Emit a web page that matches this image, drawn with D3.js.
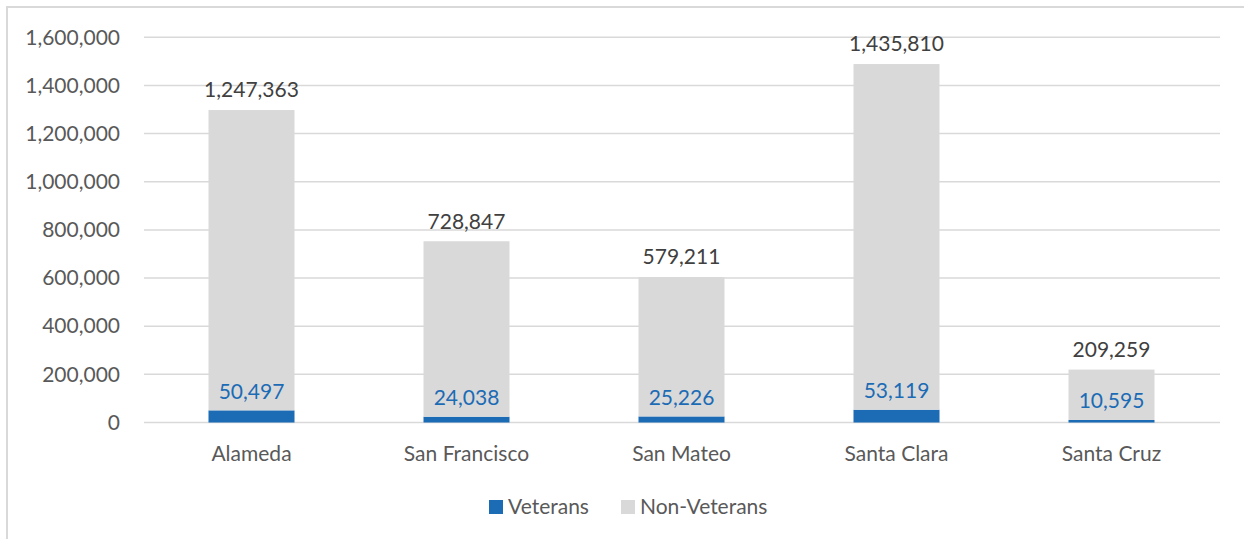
<!DOCTYPE html>
<html>
<head>
<meta charset="utf-8">
<script src="https://cdn.jsdelivr.net/npm/d3@7"></script>
<style>
  body { margin: 0; background: #fff; }
  svg text { font-family: Lato, "Open Sans", sans-serif; }
</style>
</head>
<body>
<div id="chart"></div>
<script>
var counties = ["Alameda", "San Francisco", "San Mateo", "Santa Clara", "Santa Cruz"];
var veterans = [50497, 24038, 25226, 53119, 10595];
var nonVeterans = [1247363, 728847, 579211, 1435810, 209259];
var yTicks = [0, 200000, 400000, 600000, 800000, 1000000, 1200000, 1400000, 1600000];
var seriesNames = ["Veterans", "Non-Veterans"];

var W = 1244, H = 539;
var blue = "#1b6bb5", grey = "#d9d9d9";
var fs = "21px";
var fmt = d3.format(",");

var svg = d3.select("#chart").append("svg")
    .attr("width", W)
    .attr("height", H);

// outer chart border (runs off the right/bottom edge)
svg.append("rect")
    .attr("x", 7).attr("y", 7)
    .attr("width", W).attr("height", H)
    .attr("fill", "none")
    .attr("stroke", "#d9d9d9")
    .attr("stroke-width", 2);

var x = d3.scaleBand()
    .domain(counties)
    .range([144, 1219])
    .paddingInner(0.6)
    .paddingOuter(0.3);

var y = d3.scaleLinear()
    .domain([0, 1600000])
    .range([422.5, 37.3]);

// gridlines
svg.append("g").selectAll("line")
    .data(yTicks)
    .enter().append("line")
    .attr("x1", 144).attr("x2", 1220)
    .attr("y1", function (d) { return y(d); })
    .attr("y2", function (d) { return y(d); })
    .attr("stroke", "#d9d9d9")
    .attr("stroke-width", 1.5);

// y axis labels
var yAxis = d3.axisLeft(y).tickValues(yTicks).tickFormat(fmt).tickSize(0).tickPadding(0);
var gy = svg.append("g").attr("transform", "translate(120,0)").call(yAxis);
gy.select(".domain").remove();
gy.selectAll("text")
    .attr("fill", "#595959")
    .style("font-size", fs)
    .style("font-family", "Lato, sans-serif");

// category labels
var xAxis = d3.axisBottom(x).tickSize(0).tickPadding(0);
var gx = svg.append("g").attr("transform", "translate(0,446)").call(xAxis);
gx.select(".domain").remove();
gx.selectAll("text")
    .attr("fill", "#595959")
    .style("font-size", fs)
    .style("font-family", "Lato, sans-serif");

var rows = counties.map(function (c, i) {
    return { county: c, vet: veterans[i], non: nonVeterans[i] };
});

// veteran segment
svg.append("g").selectAll("rect")
    .data(rows)
    .enter().append("rect")
    .attr("x", function (d) { return x(d.county); })
    .attr("width", x.bandwidth())
    .attr("y", function (d) { return y(d.vet); })
    .attr("height", function (d) { return y(0) - y(d.vet); })
    .attr("fill", blue);

// non-veteran segment stacked on top
svg.append("g").selectAll("rect")
    .data(rows)
    .enter().append("rect")
    .attr("x", function (d) { return x(d.county); })
    .attr("width", x.bandwidth())
    .attr("y", function (d) { return y(d.vet + d.non); })
    .attr("height", function (d) { return y(d.vet) - y(d.vet + d.non); })
    .attr("fill", grey);

// labels
svg.append("g").selectAll("text")
    .data(rows)
    .enter().append("text")
    .attr("x", function (d) { return x(d.county) + x.bandwidth() / 2; })
    .attr("y", function (d) { return y(d.vet + d.non) - 20; })
    .attr("dy", "0.35em")
    .attr("text-anchor", "middle")
    .attr("fill", "#404040")
    .style("font-size", fs)
    .text(function (d) { return fmt(d.non); });

svg.append("g").selectAll("text")
    .data(rows)
    .enter().append("text")
    .attr("x", function (d) { return x(d.county) + x.bandwidth() / 2; })
    .attr("y", function (d) { return y(d.vet) - 19; })
    .attr("dy", "0.35em")
    .attr("text-anchor", "middle")
    .attr("fill", blue)
    .style("font-size", fs)
    .text(function (d) { return fmt(d.vet); });

// legend
var legend = svg.append("g").attr("transform", "translate(489,507)");
var legX = [0, 132];
var legendItems = legend.selectAll("g")
    .data(seriesNames)
    .enter().append("g")
    .attr("transform", function (d, i) { return "translate(" + legX[i] + ",0)"; });
legendItems.append("rect")
    .attr("x", 0).attr("y", -7)
    .attr("width", 14).attr("height", 14)
    .attr("fill", function (d, i) { return i === 0 ? blue : grey; });
legendItems.append("text")
    .attr("x", 19)
    .attr("dy", "0.35em")
    .attr("fill", "#595959")
    .style("font-size", fs)
    .text(function (d) { return d; });
</script>
</body>
</html>
